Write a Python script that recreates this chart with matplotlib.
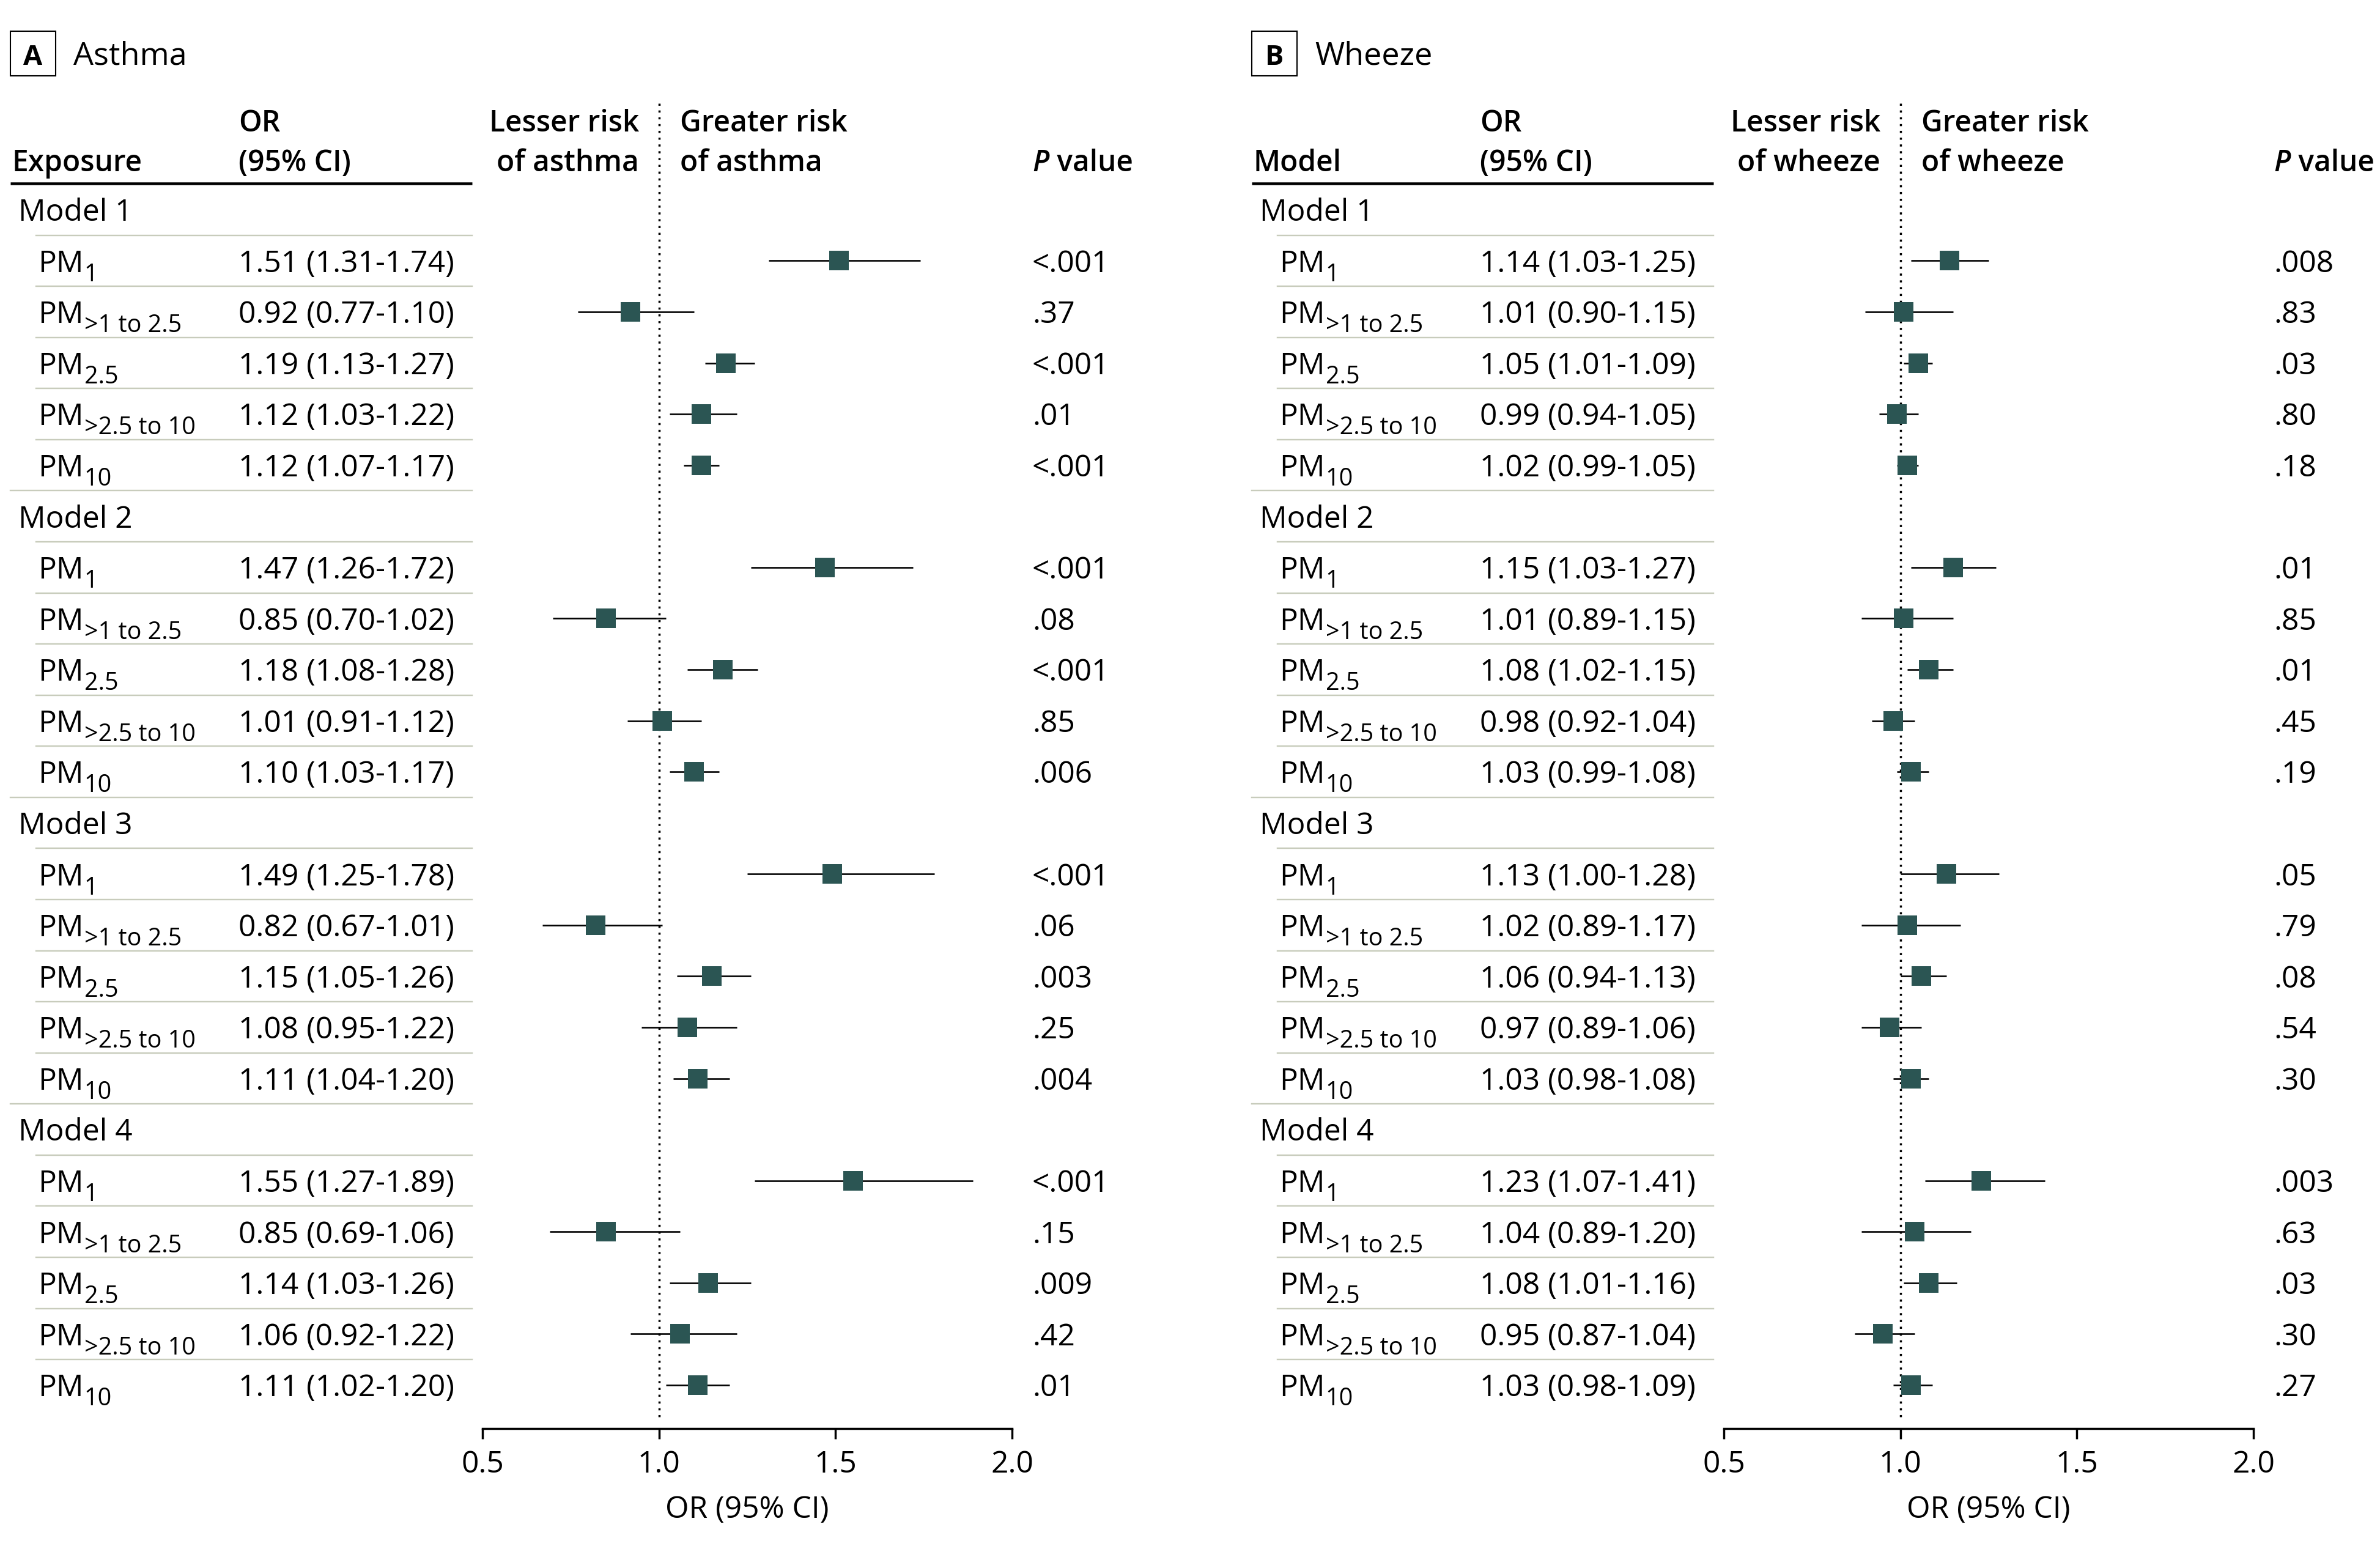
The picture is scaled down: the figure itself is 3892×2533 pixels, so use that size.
import matplotlib
matplotlib.use("Agg")
import matplotlib.pyplot as plt
import numpy as np
from matplotlib.transforms import blended_transform_factory, offset_copy
from matplotlib.patches import Rectangle

FAM = 'Open Sans'
plt.rcParams['font.family'] = [FAM, 'DejaVu Sans']

# ---------------- data ----------------
models = ["Model 1", "Model 2", "Model 3", "Model 4"]
exposure_base = "PM"
exposure_sub = ["1", ">1 to 2.5", "2.5", ">2.5 to 10", "10"]
ticks = [0.5, 1.0, 1.5, 2.0]
tick_labels = ["0.5", "1.0", "1.5", "2.0"]

asthma_or = [1.51, 0.92, 1.19, 1.12, 1.12,
             1.47, 0.85, 1.18, 1.01, 1.10,
             1.49, 0.82, 1.15, 1.08, 1.11,
             1.55, 0.85, 1.14, 1.06, 1.11]
asthma_lo = [1.31, 0.77, 1.13, 1.03, 1.07,
             1.26, 0.70, 1.08, 0.91, 1.03,
             1.25, 0.67, 1.05, 0.95, 1.04,
             1.27, 0.69, 1.03, 0.92, 1.02]
asthma_hi = [1.74, 1.10, 1.27, 1.22, 1.17,
             1.72, 1.02, 1.28, 1.12, 1.17,
             1.78, 1.01, 1.26, 1.22, 1.20,
             1.89, 1.06, 1.26, 1.22, 1.20]
asthma_p = ["<.001", ".37", "<.001", ".01", "<.001",
            "<.001", ".08", "<.001", ".85", ".006",
            "<.001", ".06", ".003", ".25", ".004",
            "<.001", ".15", ".009", ".42", ".01"]

wheeze_or = [1.14, 1.01, 1.05, 0.99, 1.02,
             1.15, 1.01, 1.08, 0.98, 1.03,
             1.13, 1.02, 1.06, 0.97, 1.03,
             1.23, 1.04, 1.08, 0.95, 1.03]
wheeze_lo = [1.03, 0.90, 1.01, 0.94, 0.99,
             1.03, 0.89, 1.02, 0.92, 0.99,
             1.00, 0.89, 0.94, 0.89, 0.98,
             1.07, 0.89, 1.01, 0.87, 0.98]
wheeze_hi = [1.25, 1.15, 1.09, 1.05, 1.05,
             1.27, 1.15, 1.15, 1.04, 1.08,
             1.28, 1.17, 1.13, 1.06, 1.08,
             1.41, 1.20, 1.16, 1.04, 1.09]
wheeze_p = [".008", ".83", ".03", ".80", ".18",
            ".01", ".85", ".01", ".45", ".19",
            ".05", ".79", ".08", ".54", ".30",
            ".003", ".63", ".03", ".30", ".27"]
# lower whisker as drawn in the figure (differs from the printed CI in one row)
wheeze_lo_drawn = list(wheeze_lo)
wheeze_lo_drawn[12] = 1.00

panels = [
    dict(letter="A", title="Asthma", first="Exposure", outcome="asthma",
         orv=asthma_or, lo=asthma_lo, hi=asthma_hi, lo_drawn=asthma_lo, p=asthma_p),
    dict(letter="B", title="Wheeze", first="Model", outcome="wheeze",
         orv=wheeze_or, lo=wheeze_lo, hi=wheeze_hi, lo_drawn=wheeze_lo_drawn, p=wheeze_p),
]

# ---------------- layout ----------------
W, H = 3892, 2533
DPI = 250
fig = plt.figure(figsize=(W / DPI, H / DPI), dpi=DPI)
renderer = fig.canvas.get_renderer()
FS = 14.3
HFS = 13.8
SUBFS = 11.4
MARK = '#2b5553'
GRID = '#c8ccbc'

def fx(px):
    return px / W

AX_L, AX_R = 789, 1655
AX_TOP, AX_BOT = 169, 2336
Y_TOP, Y_BOT = -2.08, 23.85
BASE = 0.22  # baseline offset (rows) below row centre

for k, pn in enumerate(panels):
    dx = 2030 * k
    ax = fig.add_axes([fx(AX_L + dx), 1 - AX_BOT / H, fx(AX_R - AX_L), (AX_BOT - AX_TOP) / H])
    ax.set_xlim(0.5, 2.0)
    ax.set_ylim(Y_BOT, Y_TOP)
    for s in ['top', 'left', 'right']:
        ax.spines[s].set_visible(False)
    ax.spines['bottom'].set_linewidth(1.0)
    ax.set_yticks([])
    ax.set_xticks(ticks)
    ax.set_xticklabels(tick_labels, fontsize=FS)
    ax.tick_params(axis='x', direction='out', length=5, width=1.0, pad=5)
    ax.set_xlabel("OR (95% CI)", fontsize=FS, labelpad=7)
    ax.patch.set_visible(False)

    # reference line
    ax.plot([1.0, 1.0], [Y_TOP, 23.7], color='black', lw=1.0,
            linestyle=(0, (1, 2.2)), clip_on=False, zorder=1)

    trans = blended_transform_factory(fig.transFigure, ax.transData)

    # header
    fig.add_artist(Rectangle((fx(17 + dx), 1 - 124 / H), fx(74), 73 / H,
                             transform=fig.transFigure, fill=False, ec='black', lw=0.6))
    fig.text(fx(54 + dx), 1 - 106 / H, pn["letter"], ha='center', va='baseline',
             fontsize=13, fontweight='bold')
    fig.text(fx(120 + dx), 1 - 106 / H, pn["title"], ha='left', va='baseline', fontsize=15)

    l1, l2 = -1.525, -0.748
    hw = 'semibold'
    ax.text(fx(20 + dx), l2, pn["first"], transform=trans, ha='left', va='baseline',
            fontsize=HFS, fontweight=hw)
    ax.text(fx(390 + dx), l1, "OR", transform=trans, ha='left', va='baseline',
            fontsize=HFS, fontweight=hw)
    ax.text(fx(390 + dx), l2, "(95% CI)", transform=trans, ha='left', va='baseline',
            fontsize=HFS, fontweight=hw)
    ax.text(fx(1045 + dx), l1, "Lesser risk", transform=trans, ha='right', va='baseline',
            fontsize=HFS, fontweight=hw)
    ax.text(fx(1045 + dx), l2, "of " + pn["outcome"], transform=trans, ha='right',
            va='baseline', fontsize=HFS, fontweight=hw)
    ax.text(fx(1112 + dx), l1, "Greater risk", transform=trans, ha='left', va='baseline',
            fontsize=HFS, fontweight=hw)
    ax.text(fx(1112 + dx), l2, "of " + pn["outcome"], transform=trans, ha='left',
            va='baseline', fontsize=HFS, fontweight=hw)
    tp = ax.text(fx(1688 + dx), l2, "P", transform=trans, ha='left', va='baseline',
                 fontsize=HFS, fontweight=hw, fontstyle='italic')
    pw = tp.get_window_extent(renderer).width * 72.0 / DPI
    ax.text(fx(1688 + dx), l2, " value",
            transform=offset_copy(trans, fig=fig, x=pw, y=0, units='points'),
            ha='left', va='baseline', fontsize=HFS, fontweight=hw)

    ax.plot([fx(17 + dx), fx(772 + dx)], [-0.51, -0.51], transform=trans, color='black',
            lw=1.3, clip_on=False, solid_capstyle='butt')

    # rows
    row = 0
    idx = 0
    for m, mname in enumerate(models):
        ax.text(fx(30 + dx), row + BASE, mname, transform=trans, ha='left',
                va='baseline', fontsize=FS)
        if m > 0:
            ax.plot([fx(17 + dx), fx(772 + dx)], [row - 0.5, row - 0.5], transform=trans,
                    color=GRID, lw=0.7, clip_on=False)
        for e, sub in enumerate(exposure_sub):
            row += 1
            ax.plot([fx(59 + dx), fx(772 + dx)], [row - 0.5, row - 0.5], transform=trans,
                    color=GRID, lw=0.7, clip_on=False)
            t = ax.text(fx(62 + dx), row + BASE, exposure_base, transform=trans, ha='left',
                        va='baseline', fontsize=FS)
            wpt = t.get_window_extent(renderer).width * 72.0 / DPI
            strans = offset_copy(trans, fig=fig, x=wpt + 0.3, y=-4.3, units='points')
            ax.text(fx(62 + dx), row + BASE, sub, transform=strans, ha='left',
                    va='baseline', fontsize=SUBFS)
            ax.text(fx(390 + dx), row + BASE,
                    f"{pn['orv'][idx]:.2f} ({pn['lo'][idx]:.2f}-{pn['hi'][idx]:.2f})",
                    transform=trans, ha='left', va='baseline', fontsize=FS)
            ax.text(fx(1688 + dx), row + BASE, pn['p'][idx], transform=trans, ha='left',
                    va='baseline', fontsize=FS)
            ax.plot([pn['lo_drawn'][idx], pn['hi'][idx]], [row, row], color='black',
                    lw=0.75, zorder=2, solid_capstyle='butt')
            ax.plot([pn['orv'][idx]], [row], marker='s', markersize=9.5, color=MARK,
                    markeredgewidth=0, linestyle='none', zorder=3)
            idx += 1
        row += 1

fig.savefig("out.png", dpi=DPI)
